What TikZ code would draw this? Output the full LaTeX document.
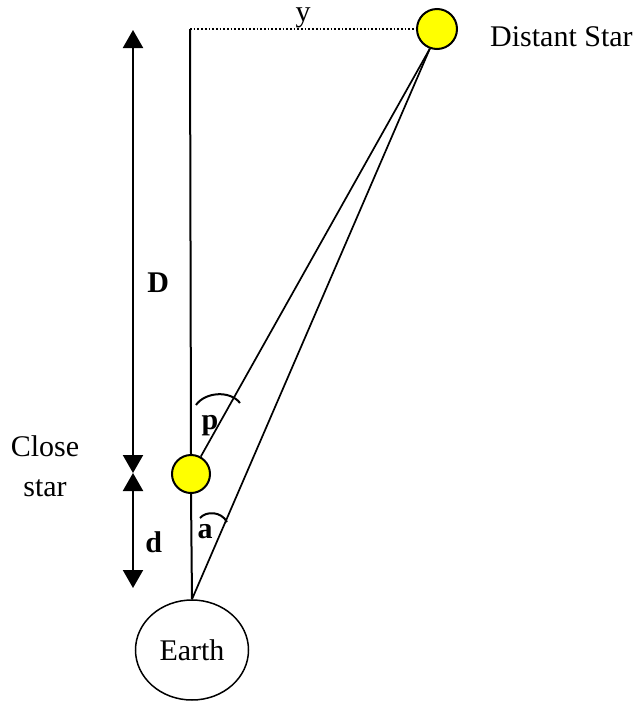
\documentclass[tikz,border=0pt]{standalone}
\usepackage{fontspec}
\setmainfont{Liberation Serif}
\usetikzlibrary{arrows.meta,shapes.geometric}
\definecolor{staryel}{HTML}{FFFF00}

\begin{document}
\begin{tikzpicture}[x=1pt, y=-1pt, line width=1.7pt,
    font=\fontsize{30}{40}\selectfont,
    star/.style={circle, draw, line width=2pt, fill=staryel, inner sep=0pt},
    lbl/.style={font=\fontsize{30}{40}\selectfont\bfseries},
    span/.style={line width=2pt, {Triangle[length=18pt,width=20pt]}-{Triangle[length=18pt,width=20pt]}}]
  \useasboundingbox (0,0) rectangle (639,702);

  % Stars and Earth
  \node[star, minimum size=40pt] (far) at (437,29) {};
  \node[star, minimum size=38pt] (near) at (191,474) {};
  \node[draw, ellipse, line width=1.5pt, minimum width=113pt, minimum height=100pt, inner sep=0pt] (earth) at (192,650) {Earth};

  % Line of sight straight up
  \coordinate (top) at (190,29);
  \draw[line width=2pt] (top) -- (near.north);
  \draw[line width=2pt] (near.south) -- (earth.north);
  \draw[dotted] (top) -- (far.west) node[midway, anchor=south, inner sep=0pt] {y};

  % Lines to the distant star
  \coordinate (conv) at (far.250);
  \draw (near) -- (conv);
  \draw (earth.north) -- (conv);

  % Distances
  \coordinate (Dtop) at (133,30);
  \coordinate (Dmid) at (133,473);
  \coordinate (dbot) at (133,588);
  \draw[span] (Dtop) -- (Dmid) node[lbl, pos=0.57, right=10pt] {D};
  \draw[span] (Dmid) -- (dbot) node[lbl, pos=0.6, right=8pt] {d};

  % Angle arcs
  \draw[line width=2pt] (196,405) .. controls (205,392) and (230,390) .. (240,403);
  \node[lbl] (plbl) at (210,426) {p};
  \draw[line width=2pt] (200,518) .. controls (206,511) and (221,511) .. (227,522);
  \node[lbl] (albl) at (205,532) {a};

  % Names
  \node[align=center] (close) at (45,466) {Close\\star};
  \node[anchor=west] (farlbl) at (486,37) {Distant Star};
\end{tikzpicture}
\end{document}
